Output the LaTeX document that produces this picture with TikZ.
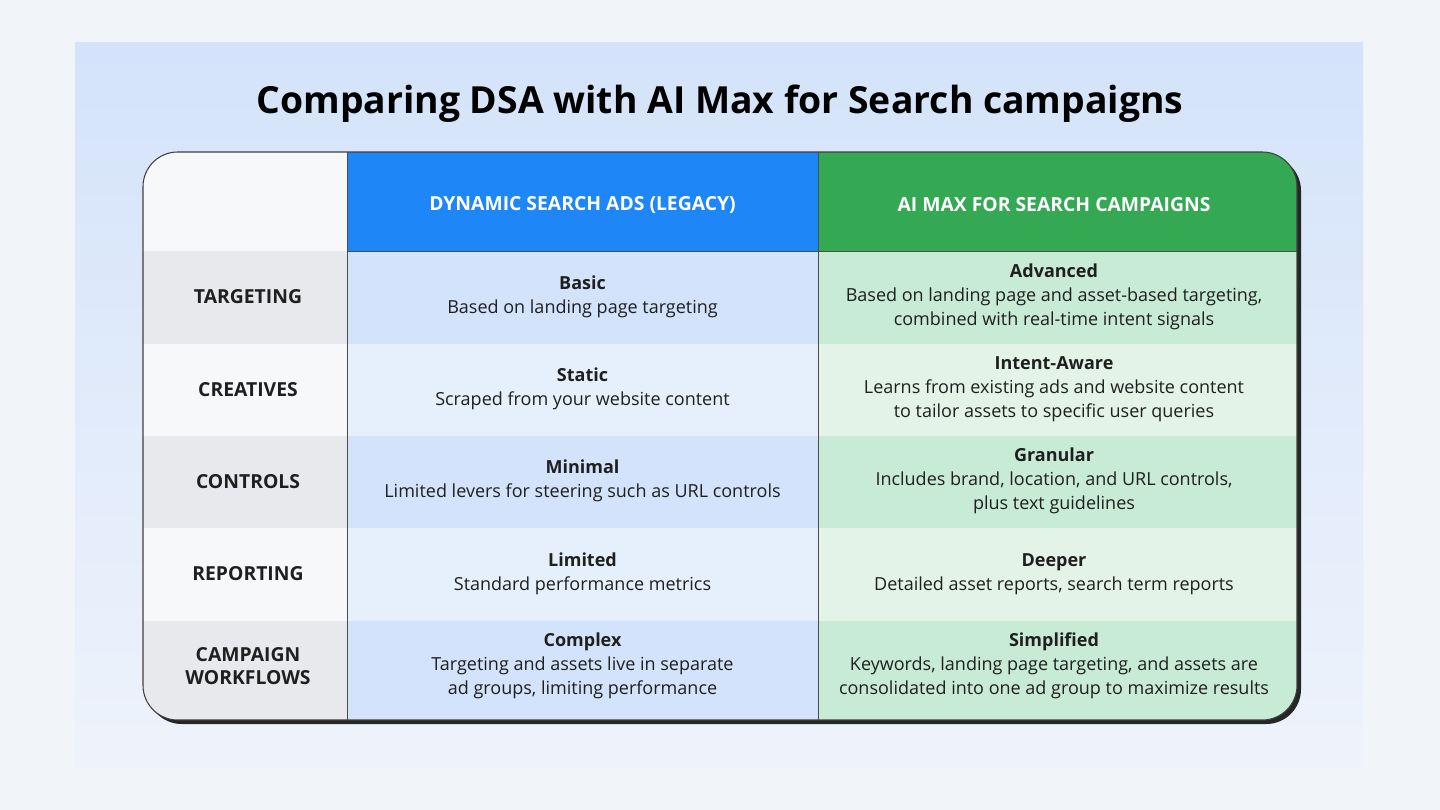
\documentclass[tikz,border=0pt]{standalone}
\usepackage{fontspec}
\setmainfont{Open Sans}
\begin{document}
\definecolor{pagebg}{HTML}{F1F4F9}
\definecolor{paneltop}{HTML}{D4E3FA}
\definecolor{panelbot}{HTML}{EEF3FB}
\definecolor{hblue}{HTML}{1F86F7}
\definecolor{hgreen}{HTML}{34A853}
\definecolor{lgA}{HTML}{E8E9EC}
\definecolor{lgB}{HTML}{F7F8FA}
\definecolor{blA}{HTML}{D3E3FB}
\definecolor{blB}{HTML}{E6EFFC}
\definecolor{grA}{HTML}{C8EBD5}
\definecolor{grB}{HTML}{E3F3E7}
\definecolor{ink}{HTML}{1F1F1F}
\begin{tikzpicture}[x=0.75pt,y=-0.75pt,
  lab/.style={font=\fontsize{14.5}{17}\selectfont\bfseries, text=ink, align=center},
  hd/.style={font=\fontsize{14.5}{17}\selectfont\bfseries, text=white, align=center},
  cell/.style={font=\fontsize{13.5}{18}\selectfont, text=ink, align=center},
  sep/.style={draw=black!70, line width=0.6pt}]
\fill[pagebg] (0,0) rectangle (1440,810);
\useasboundingbox (0,0) rectangle (1440,810);
\shade[top color=paneltop, bottom color=panelbot] (75,42) rectangle (1363,767);
\node[font=\fontsize{28}{32}\selectfont\bfseries, text=black] (title) at (720,104) {Comparing DSA with AI Max for Search campaigns};
% shadow
\fill[black!85, rounded corners=26] (147,156) rectangle (1301,724);
\begin{scope}
\clip[rounded corners=26] (143,152) rectangle (1297,720);
\fill[lgB] (143,152) rectangle (347,251);
\fill[hblue] (347,152) rectangle (818,251);
\fill[hgreen] (818,152) rectangle (1297,251);
\foreach \ya/\yb/\cl/\cb/\cg in {251/344/lgA/blA/grA, 344/436/lgB/blB/grB, 436/528/lgA/blA/grA, 528/621/lgB/blB/grB, 621/720/lgA/blA/grA}{
  \fill[\cl] (143,\ya) rectangle (347,\yb);
  \fill[\cb] (347,\ya) rectangle (818,\yb);
  \fill[\cg] (818,\ya) rectangle (1297,\yb);
}
\end{scope}
\draw[sep] (347,152) -- (347,720);
\draw[sep] (818,152) -- (818,720);
\draw[sep] (347,251) -- (1297,251);
\draw[black!75, line width=0.8pt, rounded corners=26] (143,152) rectangle (1297,720);
\node[hd] (h1) at (582.5,205) {DYNAMIC SEARCH ADS (LEGACY)};
\node[hd] (h2) at (1054,205) {AI MAX FOR SEARCH CAMPAIGNS};
\node[lab] (r1) at (248,297) {TARGETING};
\node[lab] (r2) at (248,390) {CREATIVES};
\node[lab] (r3) at (248,482) {CONTROLS};
\node[lab] (r4) at (248,574) {REPORTING};
\node[lab] (r5) at (248,666) {CAMPAIGN\\WORKFLOWS};
\node[cell] (d1) at (582.5,297) {\textbf{Basic}\\Based on landing page targeting};
\node[cell] (d2) at (582.5,389) {\textbf{Static}\\Scraped from your website content};
\node[cell] (d3) at (582.5,481) {\textbf{Minimal}\\Limited levers for steering such as URL controls};
\node[cell] (d4) at (582.5,574) {\textbf{Limited}\\Standard performance metrics};
\node[cell] (d5) at (582.5,666) {\textbf{Complex}\\Targeting and assets live in separate\\ad groups, limiting performance};
\node[cell] (a1) at (1054,297) {\textbf{Advanced}\\Based on landing page and asset-based targeting,\\combined with real-time intent signals};
\node[cell] (a2) at (1054,389) {\textbf{Intent-Aware}\\Learns from existing ads and website content\\to tailor assets to specific user queries};
\node[cell] (a3) at (1054,481) {\textbf{Granular}\\Includes brand, location, and URL controls,\\plus text guidelines};
\node[cell] (a4) at (1054,574) {\textbf{Deeper}\\Detailed asset reports, search term reports};
\node[cell] (a5) at (1054,666) {\textbf{Simplified}\\Keywords, landing page targeting, and assets are\\consolidated into one ad group to maximize results};
\end{tikzpicture}
\end{document}
